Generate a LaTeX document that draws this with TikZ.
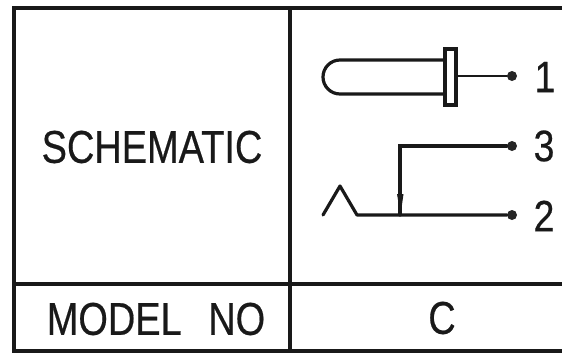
\documentclass[tikz,border=0pt]{standalone}
\usepackage{fontspec}
\setmainfont[FakeBold=0.5]{Liberation Sans}
\usetikzlibrary{arrows.meta}
\tikzset{
 frame/.style={line width=3.6pt,line cap=round,black!90},
 wire/.style={line width=3.2pt,line cap=round,black!90},
 pin/.style={circle,fill=black!85,inner sep=0pt,minimum size=10pt},
 lab/.style={font=\fontsize{46}{46}\selectfont,inner sep=0pt,xscale=0.825,text=black!90},
 num/.style={font=\fontsize{44}{44}\selectfont,inner sep=0pt,xscale=0.85,text=black!90}
}
\begin{document}
\begin{tikzpicture}[x=1pt,y=-1pt]
\useasboundingbox (0,0) rectangle (562,354);
% table
\coordinate (tl) at (14,8); \coordinate (tr) at (562,8);
\coordinate (ml) at (14,284); \coordinate (mr) at (562,284);
\coordinate (bl) at (14,351); \coordinate (br) at (562,351);
\coordinate (vt) at (290,8); \coordinate (vb) at (290,351);
\draw[frame] (tr) -- (tl) -- (bl) -- (br);
\draw[frame] (ml) -- (mr);
\draw[frame] (vt) -- (vb);
% labels
\node[lab] (schem) at (152,147) {SCHEMATIC};
\node[lab] (model) at (156,319) {MODEL\hspace{0.7em}NO};
\node[lab] (c) at (442,318) {C};
% plug
\node[pin] (p1) at (512,76) {};
\node[pin] (p3) at (512,146) {};
\node[pin] (p2) at (512,215) {};
\node[num] (n1) at (545,77) {1};
\node[num] (n3) at (544,146) {3};
\node[num] (n2) at (544,216) {2};
\coordinate (collar) at (456,76);
\draw[wire] (445,60) -- (340,60) arc[start angle=270,end angle=90,radius=17] -- (445,94);
\draw[wire] (445,49) rectangle (456,105);
\draw[wire,line width=2.4pt] (collar) -- (p1);
% jack
\coordinate (ztip) at (340,186);
\coordinate (zs) at (323,215);
\coordinate (ze) at (357,215);
\coordinate (ja) at (400,146);
\coordinate (jb) at (400,215);
\draw[wire,line join=round] (zs) -- (ztip) -- (ze) -- (p2);
\draw[wire] (p3) -- (ja) -- (jb);
\fill[black!90] (397,194) -- (403.5,194) -- (400.5,215) -- cycle;
\end{tikzpicture}
\end{document}
